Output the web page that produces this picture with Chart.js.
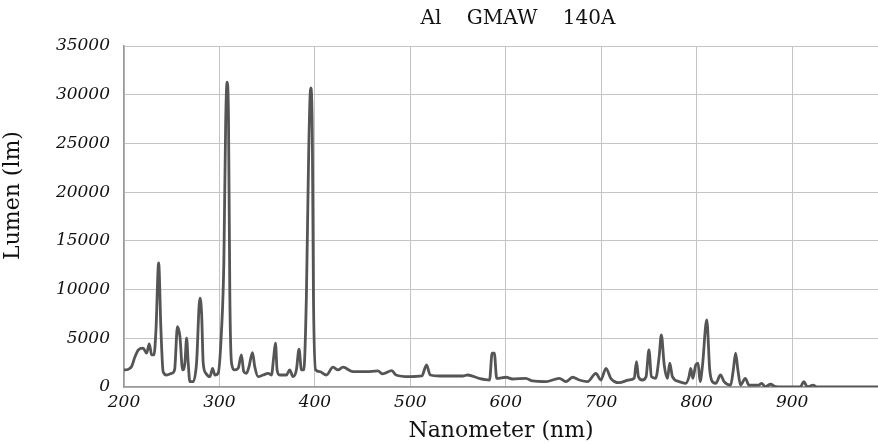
<!DOCTYPE html>
<html>
<head>
<meta charset="utf-8">
<script src="https://cdn.jsdelivr.net/npm/chart.js@4/dist/chart.umd.min.js"></script>
<style>
  html, body { margin: 0; padding: 0; background: #fff; }
  #wrap { width: 878px; height: 444px; }
</style>
</head>
<body>
<div id="wrap"><canvas id="spectrum"></canvas></div>
<script>
// wavelength (nm) and lumen values
const wavelengths = [
  200, 204, 208, 211.5, 215, 220, 223.7, 226.5, 229, 231.4, 233.5, 236.3, 238.7, 241, 244.6,
  249.9, 253, 256, 258.6, 261.4, 263.8, 265.6, 267.3, 269, 272.5, 276, 279.5, 281.3, 283, 285.8,
  290, 292.8, 295.2, 298.6, 302.2, 304.6, 306.5, 308, 309.5, 310.9, 312.7, 316, 319.6, 323, 325.5,
  328.3, 331, 334.6, 337, 340.5, 345.7, 351, 354.5, 356.9, 358.7, 360.4, 363.2, 370.2, 373.6, 377.1,
  380.6, 383.4, 385.9, 388.3, 391.1, 393.5, 395.6, 397.3, 398.5, 400.8, 405, 412, 419, 424.2, 429.4,
  440, 454, 466, 471, 480.6, 485, 499, 512, 517, 520.8, 530.5, 555, 560, 572, 583,
  585.7, 588, 590.5, 600.3, 607, 621, 628, 642, 656, 663, 670, 677, 685.7, 694.4, 699.6,
  705, 710, 718.7, 729, 734.5, 737, 739, 743, 747, 750, 752.6, 757, 760.7, 763, 766,
  769.4, 771.8, 774.6, 781.6, 788.6, 792, 793.8, 796, 799, 801.5, 803.6, 806, 810.6, 813.7, 816.4,
  820, 825, 828.7, 835.6, 838.4, 840.8, 843.2, 846, 851, 854.8, 865, 868, 872, 877.4, 882.7,
  900, 908.8, 912.3, 915.8, 919, 922, 926.2, 990
];
const lumens = [
  1750, 1800, 2100, 3100, 3800, 3980, 3470, 4420, 3290, 3300, 5860, 12730, 5860, 1570, 1230,
  1400, 1750, 6200, 5170, 1750, 2440, 5010, 2440, 550, 550, 2440, 9120, 7580, 2440, 1400,
  1060, 1920, 1230, 1400, 5860, 12760, 27000, 31300, 27500, 9290, 2440, 1750, 1920, 3290, 1570,
  1400, 2090, 3530, 2090, 1060, 1230, 1400, 1230, 3120, 4500, 1750, 1230, 1230, 1750, 1060,
  1750, 3880, 1750, 1750, 9290, 24000, 30700, 26000, 9290, 1750, 1570, 1230, 2030, 1750, 2030,
  1570, 1570, 1650, 1340, 1680, 1230, 1060, 1130, 2260, 1230, 1130, 1130, 1230, 890, 720,
  3470, 3470, 890, 1000, 820, 890, 620, 550, 890, 550, 1000, 720, 550, 1400, 720,
  1920, 890, 440, 720, 890, 2600, 1060, 720, 1060, 3810, 1060, 890, 3120, 5350, 2260,
  890, 2440, 1060, 550, 380, 1060, 1920, 890, 2260, 2440, 550, 2090, 6890, 1750, 550,
  380, 1230, 550, 200, 1750, 3470, 1750, 200, 890, 200, 200, 380, 30, 280, 30,
  0, 30, 550, 30, 100, 200, 0, 0
];

const xTicks = [200, 300, 400, 500, 600, 700, 800, 900];
const yTicks = [0, 5000, 10000, 15000, 20000, 25000, 30000, 35000];

const chartTitle = 'Al    GMAW    140A';
const xTitle = 'Nanometer (nm)';
// leading spaces nudge the rotated label upward, as in the original
const yTitle = '      Lumen (lm)';
const xRange = [200, 990];
const yRange = [0, 35000];

const serif = '"DejaVu Serif", "Liberation Serif", serif';

// title sits a little right of the plot centre in the original
const titlePlugin = {
  id: 'topTitle',
  afterDraw(chart) {
    const { ctx, chartArea } = chart;
    ctx.save();
    ctx.font = '20px ' + serif;
    ctx.fillStyle = '#111';
    ctx.textAlign = 'center';
    ctx.textBaseline = 'middle';
    ctx.fillText(chartTitle, (chartArea.left + chartArea.right) / 2 + 17, 19);
    ctx.restore();
  }
};

const points = wavelengths.map((w, i) => ({ x: w, y: lumens[i] }));

new Chart(document.getElementById('spectrum'), {
  type: 'line',
  data: {
    datasets: [{
      data: points,
      borderColor: '#555',
      borderWidth: 2.8,
      pointRadius: 0,
      cubicInterpolationMode: 'monotone',
      fill: false
    }]
  },
  options: {
    responsive: true,
    maintainAspectRatio: false,
    animation: false,
    layout: { padding: { top: 46, left: 0, right: 0, bottom: 0 } },
    plugins: {
      legend: { display: false },
      title: { display: false },
      tooltip: { enabled: false }
    },
    scales: {
      x: {
        type: 'linear',
        min: xRange[0],
        max: xRange[1],
        grid: { color: '#c4c4c4', lineWidth: 1, drawTicks: false },
        border: { color: '#999', width: 1.5 },
        afterBuildTicks(scale) { scale.ticks = xTicks.map(v => ({ value: v })); },
        ticks: {
          padding: 5,
          color: '#111',
          callback: v => String(v),
          font: { family: serif, size: 17, style: 'italic' }
        },
        title: {
          display: true,
          text: xTitle,
          color: '#111',
          padding: { top: 0, bottom: 0 },
          font: { family: serif, size: 22 }
        },
        afterFit(scale) { scale.height = 57; }
      },
      y: {
        min: yRange[0],
        max: yRange[1],
        grid: { color: '#c4c4c4', lineWidth: 1, drawTicks: false },
        border: { color: '#999', width: 1.5 },
        afterBuildTicks(scale) { scale.ticks = yTicks.map(v => ({ value: v })); },
        ticks: {
          padding: 14,
          color: '#111',
          callback: v => String(v),
          font: { family: serif, size: 17, style: 'italic' }
        },
        title: {
          display: true,
          text: yTitle,
          color: '#111',
          padding: { top: 0, bottom: 0 },
          font: { family: serif, size: 22 }
        },
        afterFit(scale) { scale.width = 124; }
      }
    }
  },
  plugins: [titlePlugin]
});
</script>
</body>
</html>
